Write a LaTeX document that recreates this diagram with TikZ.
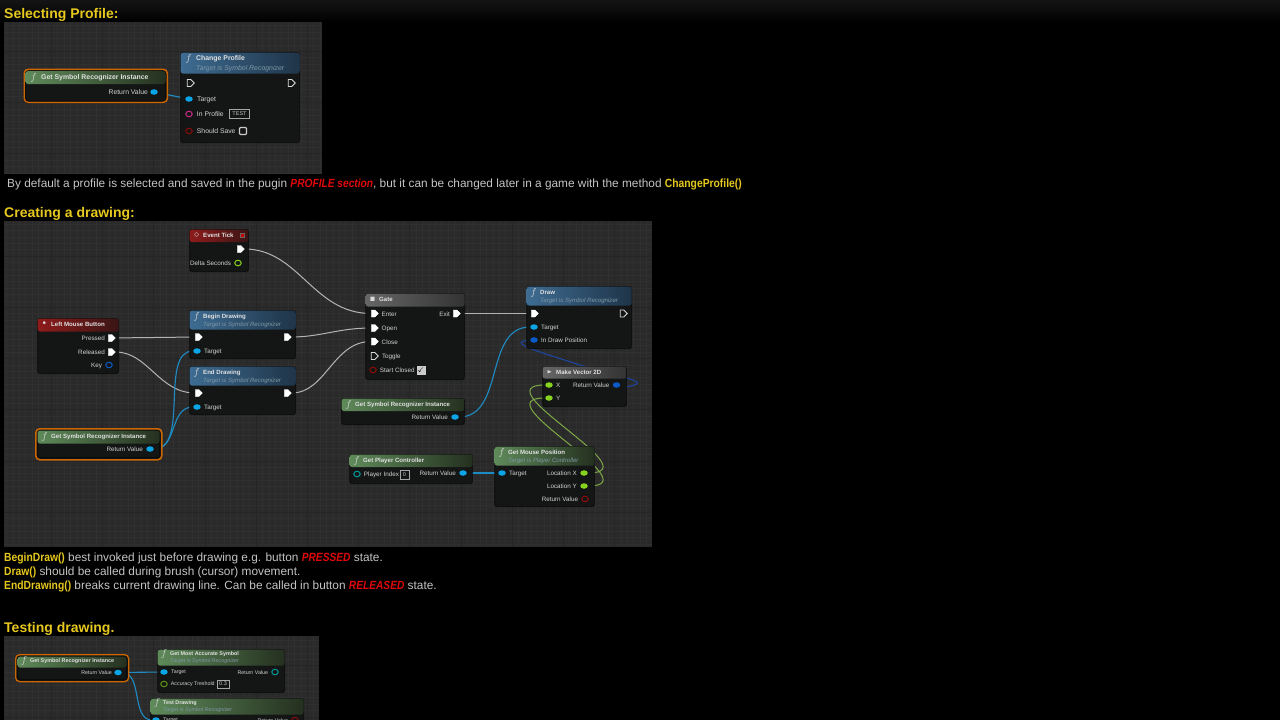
\documentclass[tikz,border=0pt]{standalone}
\usepackage{amssymb}
\usepackage{fontspec}
\setmainfont{Liberation Sans}
\newfontfamily\narrowfont[BoldFeatures={FakeStretch=.87},BoldItalicFeatures={FakeStretch=.86}]{Liberation Sans}
\usetikzlibrary{arrows.meta,positioning,shapes.geometric,shapes.symbols}
\definecolor{bodytxt}{HTML}{C4C4C4}
\definecolor{headtxt}{HTML}{E6C81E}
\definecolor{redtxt}{HTML}{E00808}
\definecolor{panelbg}{HTML}{2A2A2A}
\definecolor{gridminor}{HTML}{303030}
\definecolor{gridmajor}{HTML}{252525}
\definecolor{nodebg}{HTML}{141615}
\definecolor{pincyan}{HTML}{0AA5E6}
\definecolor{pinblue}{HTML}{0A5AC8}
\definecolor{pinlime}{HTML}{86D21E}
\definecolor{wirelime}{HTML}{7DAA46}
\definecolor{wiregrey}{HTML}{B4B4B4}
\definecolor{wirecyan}{HTML}{1E8CC3}
\definecolor{wireblue}{HTML}{1E46A0}
\definecolor{pinred}{HTML}{8C0A0A}
\definecolor{subcol}{HTML}{7E98A6}
\definecolor{blueL}{HTML}{3E6C92}
\definecolor{blueR}{HTML}{1F3448}
\definecolor{greenL}{HTML}{5F8A5A}
\definecolor{greenR}{HTML}{24301F}
\definecolor{redL}{HTML}{8E1B1B}
\definecolor{redR}{HTML}{3A1515}
\pgfdeclarelayer{panels}
\pgfdeclarelayer{wires}
\pgfsetlayers{panels,wires,main}
\newcommand{\hl}[1]{\textcolor{headtxt}{\narrowfont\bfseries #1}}
\newcommand{\rd}[1]{\textcolor{redtxt}{\narrowfont\bfseries\itshape #1}}
% title size, pin text size, title x, title y, subtitle y
\newcommand{\panelsizes}[5]{\def\tfs{#1}\def\pfs{#2}\def\tx{#3}\def\ty{#4}\def\sy{#5}}
% name, corner, width, height, header height, header style, icon, title, subtitle
\newcommand{\bpnode}[9]{%
 \begin{scope}[shift={(#2)}]
 \node[nodebody,minimum width=#3,minimum height=#4] (#1) at (0,0) {};
 \node[nodebody,#6,minimum width=#3,minimum height=#5] (#1head) at (0,0) {};
 \node[titleicon] (#1icon) at (\tx/2+.5,\ty) {#7};
 \node[titletxt] (#1title) at (\tx,\ty) {#8};
 \if\relax\detokenize{#9}\relax\else\node[subtxt] (#1sub) at (\tx,\sy) {#9};\fi
 \end{scope}}
\begin{document}
\begin{tikzpicture}[x=1pt,y=-1pt,
 heading/.style={anchor=west,inner sep=0pt,text=headtxt,font=\fontsize{14}{16}\selectfont\bfseries},
 para/.style={anchor=west,inner sep=0pt,text=bodytxt,font=\fontsize{11.85}{14}\selectfont},
 nodebody/.style={anchor=north west,inner sep=0pt,rounded corners=2.5pt,fill=nodebg,draw=black,draw opacity=.45,line width=1.2pt},
 headblue/.style={left color=blueL,right color=blueR,draw=none},
 headgreen/.style={left color=greenL,right color=greenR,draw=none},
 headred/.style={left color=redL,right color=redR,draw=none},
 headgrey/.style={left color=black!60,right color=black!80,draw=none},
 selring/.style={anchor=north west,inner sep=0pt,rounded corners=4pt,draw=orange!80!black,line width=1.6pt,fill=nodebg},
 titleicon/.style={inner sep=0pt,text=white!85!black,font=\fontsize{10}{10}\selectfont},
 titletxt/.style={anchor=west,inner sep=0pt,text=white!88!black,font=\fontsize{\tfs}{7}\selectfont\bfseries},
 subtxt/.style={anchor=west,inner sep=0pt,text=subcol,font=\fontsize{\tfs}{7}\selectfont\itshape},
 pintxt/.style={inner sep=0pt,yshift=-.5pt,text=white!82!black,font=\fontsize{\pfs}{7}\selectfont},
 execon/.style={signal,signal to=east,signal from=nowhere,minimum width=7,minimum height=7,inner sep=0pt,fill=white,draw=white,line width=.4pt},
 execoff/.style={signal,signal to=east,signal from=nowhere,minimum width=7,minimum height=7,inner sep=0pt,draw=white!85!black,line width=.8pt},
 pinon/.style={ellipse,minimum width=7.5,minimum height=5.5,inner sep=0pt,fill=#1},
 pinoff/.style={ellipse,minimum width=6.5,minimum height=5.5,inner sep=0pt,draw=#1,line width=1pt},
 valbox/.style={draw=white!65!black,line width=.6pt,inner sep=0pt,text=white!75!black,font=\fontsize{5.5}{6}\selectfont},
 wire/.style={line width=1pt,wiregrey},
 dwire/.style={line width=1.1pt,wirecyan},
 vwire/.style={line width=1pt,wirelime}]
\useasboundingbox (0,0) rectangle (1280,720);
\clip (0,0) rectangle (1280,720);
\begin{pgfonlayer}{panels}
\fill[black] (0,0) rectangle (1280,720);
\fill[top color=black!92,bottom color=black] (0,0) rectangle (1280,22);
\foreach \px/\py/\qx/\qy in {4/22/322/174,4/221/652/547,4/636/319/720}{
 \fill[panelbg] (\px,\py) rectangle (\qx,\qy);
 \begin{scope}[y=1pt]
 \clip (\px,-\qy) rectangle (\qx,-\py);
 \draw[gridminor,line width=.4pt,step=6.4] (\px,-\qy) grid (\qx,-\py);
 \draw[gridmajor,line width=.4pt,step=51.2] (\px,-\qy) grid (\qx,-\py);
 \end{scope}}
\end{pgfonlayer}

\node[heading] (head1) at (4,15) {Selecting Profile:};
\node[para] (text1) at (7,184) {By default a profile is selected and saved in the pugin \rd{PROFILE section}, but it can be changed later in a game with the method \hl{ChangeProfile()}};
\node[heading] (head2) at (4,214) {Creating a drawing:};
\node[para] (text2) at (4,558) {\hl{BeginDraw()} best invoked just before drawing e.g. button \rd{PRESSED} state.};
\node[para] (text3) at (4,572) {\hl{Draw()} should be called during brush (cursor) movement.};
\node[para] (text4) at (4,586) {\hl{EndDrawing()} breaks current drawing line. Can be called in button \rd{RELEASED} state.};
\node[heading] (head3) at (4,629) {Testing drawing.};

% first panel
\panelsizes{6.9}{6.8}{16}{7}{16.5}
\node[selring,minimum width=143,minimum height=33] (recAring) at (23.5,68.5) {};
\bpnode{recA}{25,70.5}{140}{30}{13}{headgreen}{$f$}{Get Symbol Recognizer Instance}{}
\node[pinon=pincyan] (recAout) at (154,92) {}; \node[pintxt,left=2pt of recAout] (recAoutt) {Return Value};
\bpnode{chg}{180,52}{119}{90}{21}{headblue}{$f$}{Change Profile}{Target is Symbol Recognizer}
\node[execoff] (chgin) at (189,83) {}; \node[execoff] (chgout) at (290,83) {};
\node[pinon=pincyan] (chgtgt) at (189,99) {}; \node[pintxt,right=4pt of chgtgt] (chgtgtt) {Target};
\node[pinoff=magenta!80!black] (chgprof) at (189,114) {}; \node[pintxt,right=4pt of chgprof] (chgproft) {In Profile};
\node[valbox,minimum width=20,minimum height=9] (chgval) at (239.5,114) {TEST};
\node[pinoff=pinred] (chgsave) at (189,131) {}; \node[pintxt,right=4pt of chgsave] (chgsavet) {Should Save};
\node[draw=white!80!black,line width=1.2pt,rounded corners=1pt,minimum size=7,inner sep=0pt] (chgchk) at (243,131) {};
\begin{pgfonlayer}{wires}
\draw[dwire] (recAout)--(chgtgt);
\end{pgfonlayer}

% second panel
\panelsizes{6.1}{6.3}{14}{6.5}{14.5}
\bpnode{tick}{189,229}{59}{42}{12.5}{headred}{$\diamond$}{Event Tick}{}
\node[fill=red!80!black,draw=black!60,minimum size=4,inner sep=0pt] (tickbox) at (242,235) {};
\node[execon] (tickout) at (239,249) {};
\node[pinoff=pinlime] (tickdelta) at (238,263) {}; \node[pintxt,left=3pt of tickdelta] (tickdeltat) {Delta Seconds};
\bpnode{lmb}{37,318}{81}{55}{13}{headred}{\textbullet}{Left Mouse Button}{}
\node[execon] (lmbpress) at (110,338) {}; \node[pintxt,left=3pt of lmbpress] (lmbpresst) {Pressed};
\node[execon] (lmbrel) at (110,352) {}; \node[pintxt,left=3pt of lmbrel] (lmbrelt) {Released};
\node[pinoff=pinblue] (lmbkey) at (109,365) {}; \node[pintxt,left=3pt of lmbkey] (lmbkeyt) {Key};
\bpnode{bgn}{189,310}{106}{48}{19}{headblue}{$f$}{Begin Drawing}{Target is Symbol Recognizer}
\node[execon] (bgnin) at (197,337) {}; \node[execon] (bgnout) at (286,337) {};
\node[pinon=pincyan] (bgntgt) at (197,351) {}; \node[pintxt,right=3pt of bgntgt] (bgntgtt) {Target};
\bpnode{fin}{189,366}{106}{48}{19}{headblue}{$f$}{End Drawing}{Target is Symbol Recognizer}
\node[execon] (finin) at (197,393) {}; \node[execon] (finout) at (286,393) {};
\node[pinon=pincyan] (fintgt) at (197,407) {}; \node[pintxt,right=3pt of fintgt] (fintgtt) {Target};
\node[selring,minimum width=126,minimum height=31] (recBring) at (35,428) {};
\bpnode{recB}{37,430}{122}{27}{13}{headgreen}{$f$}{Get Symbol Recognizer Instance}{}
\node[pinon=pincyan] (recBout) at (150,449) {}; \node[pintxt,left=3pt of recBout] (recBoutt) {Return Value};
\bpnode{gate}{365,293}{99}{86}{13}{headgrey}{\tiny$\blacksquare$}{Gate}{}
\node[execon] (gateenter) at (373,313.5) {}; \node[pintxt,right=3pt of gateenter] (gateentert) {Enter};
\node[execon] (gateexit) at (455,313.5) {}; \node[pintxt,left=3pt of gateexit] (gateexitt) {Exit};
\node[execon] (gateopen) at (373,328) {}; \node[pintxt,right=3pt of gateopen] (gateopent) {Open};
\node[execon] (gateclose) at (373,341.5) {}; \node[pintxt,right=3pt of gateclose] (gatecloset) {Close};
\node[execoff] (gatetog) at (373,356) {}; \node[pintxt,right=3pt of gatetog] (gatetogt) {Toggle};
\node[pinoff=pinred] (gatestart) at (373,370) {}; \node[pintxt,right=3pt of gatestart] (gatestartt) {Start Closed};
\node[fill=white!80!black,text=black,minimum size=9,inner sep=0pt,font=\fontsize{7}{7}\selectfont] (gatechk) at (421,370) {$\checkmark$};
\bpnode{drw}{526,286}{105}{62}{19}{headblue}{$f$}{Draw}{Target is Symbol Recognizer}
\node[execon] (drwin) at (533,313.5) {}; \node[execoff] (drwout) at (622,313.5) {};
\node[pinon=pincyan] (drwtgt) at (534,327) {}; \node[pintxt,right=3pt of drwtgt] (drwtgtt) {Target};
\node[pinon=pinblue] (drwpos) at (534,340) {}; \node[pintxt,right=3pt of drwpos] (drwpost) {In Draw Position};
\bpnode{vec}{542,366}{84}{40}{12}{headgrey}{\tiny$\blacktriangleright$}{Make Vector 2D}{}
\node[pinon=pinlime] (vecx) at (549,385) {}; \node[pintxt,right=3pt of vecx] (vecxt) {X};
\node[pinon=pinlime] (vecy) at (549,398) {}; \node[pintxt,right=3pt of vecy] (vecyt) {Y};
\node[pinon=pinblue] (vecout) at (616.5,385) {}; \node[pintxt,left=3pt of vecout] (vecoutt) {Return Value};
\bpnode{recC}{341,398}{123}{26}{12.5}{headgreen}{$f$}{Get Symbol Recognizer Instance}{}
\node[pinon=pincyan] (recCout) at (455,417) {}; \node[pintxt,left=3pt of recCout] (recCoutt) {Return Value};
\bpnode{ctrl}{349,454}{123}{29}{12.5}{headgreen}{$f$}{Get Player Controller}{}
\node[pinoff=teal!80!cyan] (ctrlidx) at (357,474) {}; \node[pintxt,right=3pt of ctrlidx] (ctrlidxt) {Player Index};
\node[valbox,minimum width=9,minimum height=9] (ctrlval) at (404.5,474.5) {0};
\node[pinon=pincyan] (ctrlout) at (463,473) {}; \node[pintxt,left=3pt of ctrlout] (ctrloutt) {Return Value};
\bpnode{mouse}{494,446}{100}{60}{19}{headgreen}{$f$}{Get Mouse Position}{Target is Player Controller}
\node[pinon=pincyan] (mousetgt) at (502,473) {}; \node[pintxt,right=3pt of mousetgt] (mousetgtt) {Target};
\node[pinon=pinlime] (mousex) at (584,473) {}; \node[pintxt,left=3pt of mousex] (mousext) {Location X};
\node[pinon=pinlime] (mousey) at (584,486) {}; \node[pintxt,left=3pt of mousey] (mouseyt) {Location Y};
\node[pinoff=pinred] (mouseout) at (585,499) {}; \node[pintxt,left=3pt of mouseout] (mouseoutt) {Return Value};
\coordinate (vecloop) at (637,382); \coordinate (vecbend) at (580,365);
\begin{pgfonlayer}{wires}
\draw[wire] (tickout) .. controls +(60,0) and +(-60,0) .. (gateenter);
\draw[wire] (lmbpress)--(bgnin);
\draw[wire] (lmbrel) .. controls +(38,0) and +(-38,0) .. (finin);
\draw[wire] (bgnout) .. controls +(35,0) and +(-35,0) .. (gateopen);
\draw[wire] (finout) .. controls +(40,0) and +(-40,0) .. (gateclose);
\draw[wire] (gateexit)--(drwin);
\draw[dwire] (recBout) .. controls +(40,0) and +(-38,0) .. (bgntgt);
\draw[dwire] (recBout) .. controls +(28,0) and +(-28,0) .. (fintgt);
\draw[dwire] (recCout) .. controls +(50,0) and +(-50,0) .. (drwtgt);
\draw[dwire] (ctrlout)--(mousetgt);
\draw[line width=1.1pt,wireblue] (vecout) .. controls +(10,3) and +(2,3) .. (vecloop) .. controls +(-3,-3) and +(12,4) .. (vecbend) .. controls +(-40,-13) and +(-30,2) .. (drwpos);
\draw[vwire] (mousex) .. controls +(70,0) and +(-70,0) .. (vecx);
\draw[vwire] (mousey) .. controls +(70,0) and +(-70,0) .. (vecy);
\end{pgfonlayer}

% third panel
\panelsizes{5.4}{5.3}{13}{5}{12}
\node[selring,line width=1.3pt,minimum width=113,minimum height=27] (recDring) at (15,654) {};
\bpnode{recD}{17,656}{109}{23}{11}{headgreen}{$f$}{Get Symbol Recognizer Instance}{}
\node[pinon=pincyan] (recDout) at (118,672.5) {}; \node[pintxt,left=2pt of recDout] (recDoutt) {Return Value};
\bpnode{acc}{157,649}{127}{43}{16}{headgreen}{$f$}{Get Most Accurate Symbol}{Target is Symbol Recognizer}
\node[pinon=pincyan] (acctgt) at (164,672) {}; \node[pintxt,right=3pt of acctgt] (acctgtt) {Target};
\node[pinoff=teal!80!cyan] (accout) at (275,672) {}; \node[pintxt,left=3pt of accout] (accoutt) {Return Value};
\node[pinoff=pinlime!70!black] (acctres) at (164,684) {}; \node[pintxt,right=3pt of acctres] (acctrest) {Accuracy Treshold};
\node[valbox,minimum width=12,minimum height=8] (accval) at (223,684) {0.3};
\bpnode{tst}{150,698}{153}{40}{16}{headgreen}{$f$}{Test Drawing}{Target is Symbol Recognizer}
\node[pinon=pincyan] (tsttgt) at (156,720) {}; \node[pintxt,right=3pt of tsttgt] (tsttgtt) {Target};
\node[pinoff=pinred] (tstout) at (295,720) {}; \node[pintxt,left=3pt of tstout] (tstoutt) {Return Value};
\begin{pgfonlayer}{wires}
\draw[dwire] (recDout)--(acctgt);
\draw[dwire] (recDout) .. controls +(25,0) and +(-25,0) .. (tsttgt);
\end{pgfonlayer}
\end{tikzpicture}
\end{document}
